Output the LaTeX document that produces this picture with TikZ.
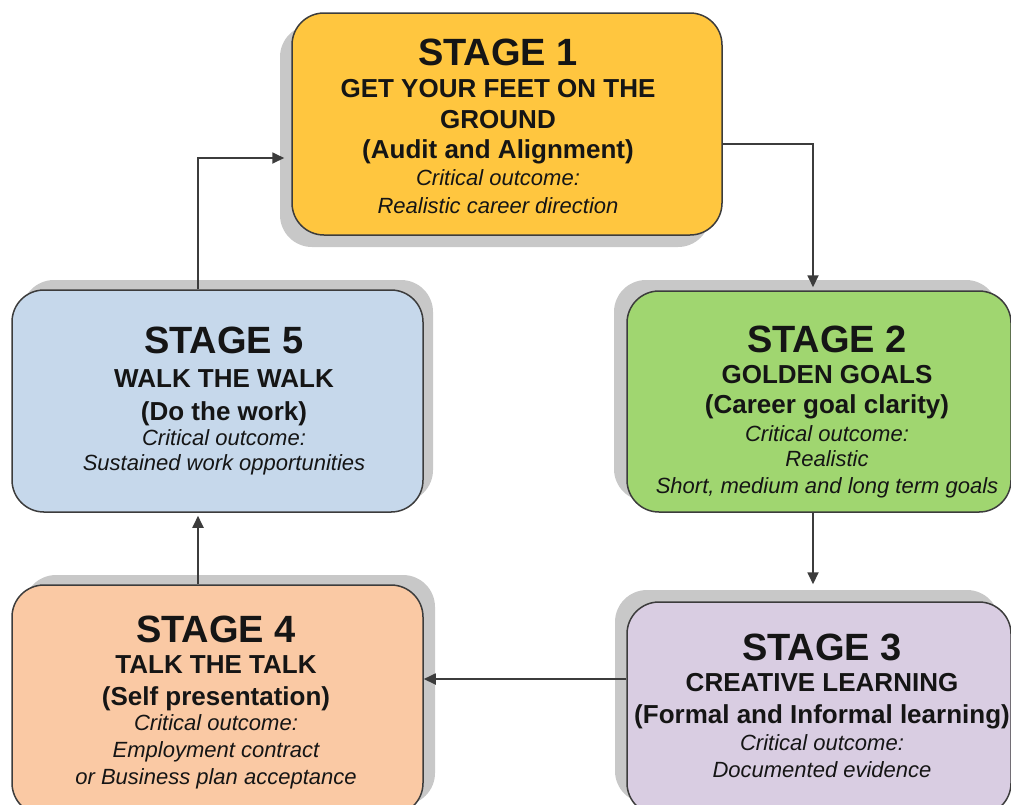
\documentclass[tikz,border=0pt]{standalone}
\usepackage{fontspec}
\setmainfont{Liberation Sans}
\usetikzlibrary{arrows.meta,shadows,calc}
\definecolor{c1}{HTML}{FFC63F}
\definecolor{c2}{HTML}{A0D670}
\definecolor{c3}{HTML}{D9CDE2}
\definecolor{c4}{HTML}{FAC9A4}
\definecolor{c5}{HTML}{C6D8EB}
\definecolor{shd}{HTML}{C8C8C8}
\definecolor{edge}{HTML}{3C3C3C}
\definecolor{txt}{HTML}{151515}
\tikzset{
  stagebox/.style={draw=edge, line width=1.5pt, rounded corners=32pt, inner sep=0pt},
  stg/.style={anchor=base, inner sep=0pt, text=txt, font=\fontsize{38}{44}\selectfont\bfseries},
  sub/.style={anchor=base, inner sep=0pt, text=txt, font=\fontsize{26}{30}\selectfont\bfseries},
  outc/.style={anchor=base, inner sep=0pt, text=txt, font=\fontsize{22}{26}\selectfont\itshape},
  arr/.style={draw=edge, line width=1.8pt, -{Triangle[length=12pt,width=11pt]}}
}
\begin{document}
\begin{tikzpicture}[x=1pt,y=-1pt]
\useasboundingbox (0,0) rectangle (1011,804);
\clip (0,0) rectangle (1011,804);
% boxes
\node[stagebox, fill=c1, minimum width=430pt, minimum height=222pt,
  general shadow={fill=shd, shadow xshift=-12pt, shadow yshift=-12pt}] (s1) at (507,124) {};
\node[stagebox, fill=c2, minimum width=384pt, minimum height=221pt,
  general shadow={fill=shd, shadow xshift=-13pt, shadow yshift=11pt}] (s2) at (819,401.5) {};
\node[stagebox, fill=c3, minimum width=384pt, minimum height=213pt,
  general shadow={fill=shd, shadow xshift=-12pt, shadow yshift=12pt}] (s3) at (819,708.5) {};
\node[stagebox, fill=c4, minimum width=411pt, minimum height=230pt,
  general shadow={fill=shd, shadow xshift=12pt, shadow yshift=10pt}] (s4) at (217.5,700) {};
\node[stagebox, fill=c5, minimum width=411pt, minimum height=222pt,
  general shadow={fill=shd, shadow xshift=10pt, shadow yshift=10pt}] (s5) at (217.5,401) {};
% stage 1 text
\node[stg]  (t1a) at (498,65)  {STAGE 1};
\node[sub]  (t1b) at (498,97)  {GET YOUR FEET ON THE};
\node[sub]  (t1c) at (498,128) {GROUND};
\node[sub]  (t1d) at (498,158) {(Audit and Alignment)};
\node[outc] (t1e) at (498,185) {Critical outcome:};
\node[outc] (t1f) at (498,213) {Realistic career direction};
% stage 2 text
\node[stg]  (t2a) at (827,352) {STAGE 2};
\node[sub]  (t2b) at (827,383) {GOLDEN GOALS};
\node[sub]  (t2c) at (827,413) {(Career goal clarity)};
\node[outc] (t2d) at (827,441) {Critical outcome:};
\node[outc] (t2e) at (827,466) {Realistic};
\node[outc] (t2f) at (827,493) {Short, medium and long term goals};
% stage 3 text
\node[stg]  (t3a) at (822,660) {STAGE 3};
\node[sub]  (t3b) at (822,691) {CREATIVE LEARNING};
\node[sub]  (t3c) at (822,723) {(Formal and Informal learning)};
\node[outc] (t3d) at (822,750) {Critical outcome:};
\node[outc] (t3e) at (822,777) {Documented evidence};
% stage 4 text
\node[stg]  (t4a) at (216,642) {STAGE 4};
\node[sub]  (t4b) at (216,673) {TALK THE TALK};
\node[sub]  (t4c) at (216,705) {(Self presentation)};
\node[outc] (t4d) at (216,730) {Critical outcome:};
\node[outc] (t4e) at (216,757) {Employment contract};
\node[outc] (t4f) at (216,784) {or Business plan acceptance};
% stage 5 text
\node[stg]  (t5a) at (224,353) {STAGE 5};
\node[sub]  (t5b) at (224,387) {WALK THE WALK};
\node[sub]  (t5c) at (224,420) {(Do the work)};
\node[outc] (t5d) at (224,445) {Critical outcome:};
\node[outc] (t5e) at (224,470) {Sustained work opportunities};
% connectors
\draw[arr] ([yshift=-20pt]s1.east) -| ([xshift=-6pt,yshift=3pt]s2.north);
\draw[arr] ([xshift=-6pt]s2.south) -- ([xshift=-6pt,yshift=17pt]s3.north);
\draw[arr] ([yshift=29.5pt]s3.west) -- ([yshift=21pt]s4.east);
\draw[arr] ([xshift=-19.5pt]s4.north) -- ([xshift=-19.5pt,yshift=-3pt]s5.south);
\draw[arr] ([xshift=-19.5pt]s5.north) |- ([xshift=-7pt,yshift=-34pt]s1.west);
\end{tikzpicture}
\end{document}
